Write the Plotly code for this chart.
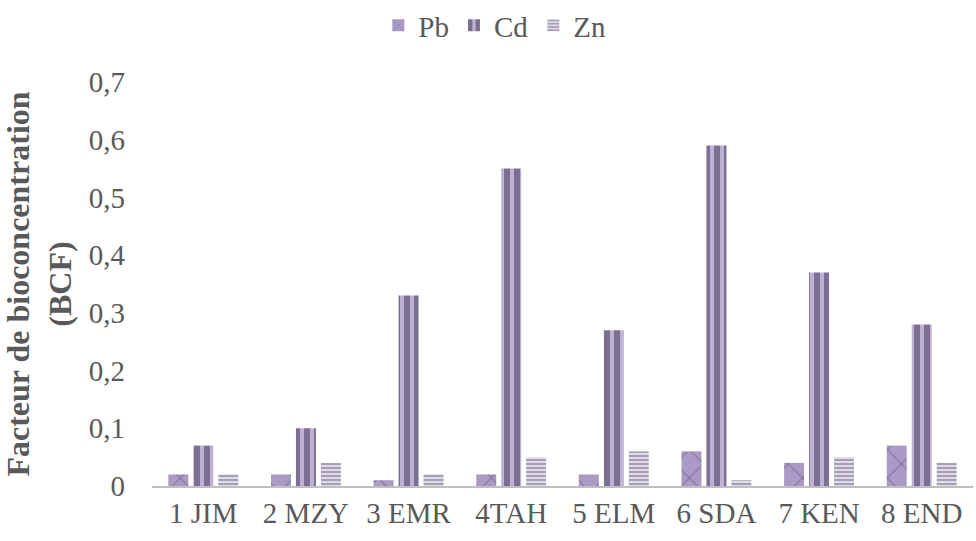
import plotly.graph_objects as go

categories = ["1 JIM", "2 MZY", "3 EMR", "4TAH", "5 ELM", "6 SDA", "7 KEN", "8 END"]
pb = [0.02, 0.02, 0.01, 0.02, 0.02, 0.06, 0.04, 0.07]
cd = [0.07, 0.10, 0.33, 0.55, 0.27, 0.59, 0.37, 0.28]
zn = [0.02, 0.04, 0.02, 0.05, 0.06, 0.01, 0.05, 0.04]
y_ticks = [0, 0.1, 0.2, 0.3, 0.4, 0.5, 0.6, 0.7]
y_tick_text = ["0", "0,1", "0,2", "0,3", "0,4", "0,5", "0,6", "0,7"]

FONT = "Liberation Serif, Times New Roman, serif"
GREY = "#595959"
FS = 29

fig = go.Figure()
fig.add_trace(go.Bar(
    name="Pb", x=categories, y=pb,
    marker=dict(color="#a898c6", line=dict(width=0),
                pattern=dict(shape="x", fgcolor="#55476f", bgcolor="#a99bc6", size=20, solidity=0.1)),
))
fig.add_trace(go.Bar(
    name="Cd", x=categories, y=cd,
    marker=dict(color="#5a4a78", line=dict(width=0),
                pattern=dict(shape="|", fgcolor="#3a2e4f", bgcolor="#bdb1d4", size=10, solidity=0.6)),
))
fig.add_trace(go.Bar(
    name="Zn", x=categories, y=zn,
    marker=dict(color="#b0aabc", line=dict(width=0),
                pattern=dict(shape="-", fgcolor="#6a6478", bgcolor="#e0dbea", size=4, solidity=0.5)),
))

fig.update_layout(
    width=976, height=541,
    margin=dict(l=152, r=3, t=82, b=55),
    paper_bgcolor="white", plot_bgcolor="white",
    barmode="group", bargap=0.27, bargroupgap=0.2,
    font=dict(family=FONT, color=GREY, size=FS),
    legend=dict(orientation="h", x=0.507, xanchor="center", xref="container",
                y=1.0, yanchor="top", yref="container",
                font=dict(size=FS, color=GREY, family=FONT),
                itemwidth=30, tracegroupgap=0),
    xaxis=dict(showgrid=False, showline=True, linecolor="#BFBFBF", linewidth=2,
               ticks="", tickfont=dict(size=FS, color=GREY, family=FONT)),
    yaxis=dict(range=[0, 0.7], tickvals=y_ticks, ticktext=y_tick_text, showgrid=False,
               zeroline=False, showline=False, ticks="", ticklabelstandoff=26,
               tickfont=dict(size=FS, color=GREY, family=FONT),
               title=dict(text="<b>Facteur de bioconcentration<br>(BCF)</b>",
                          font=dict(size=32, color=GREY, family=FONT), standoff=10)),
)

fig.write_html("out.html")
